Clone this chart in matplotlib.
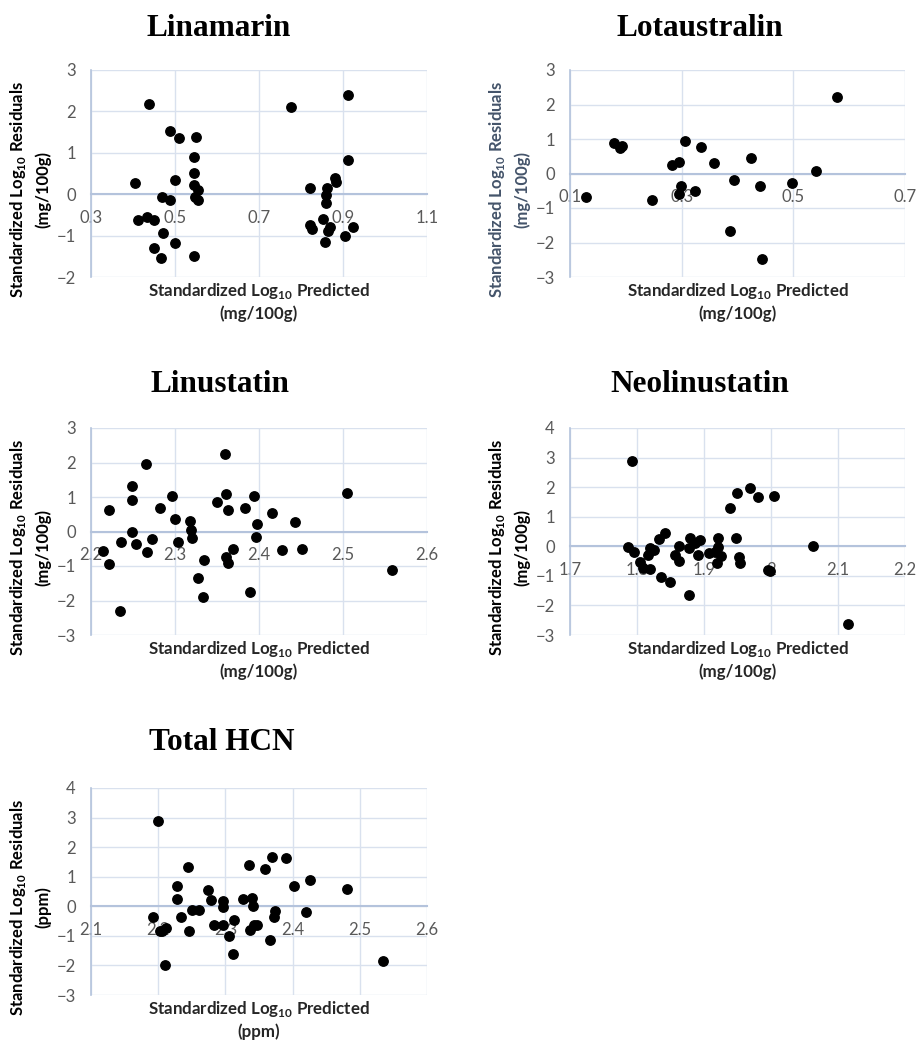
import numpy as np
import matplotlib
matplotlib.use('Agg')
import matplotlib.pyplot as plt

# values
lin_x = [0.437, 0.489, 0.509, 0.551, 0.546, 0.546, 0.404, 0.500, 0.546, 0.554, 0.548, 0.554,
         0.470, 0.489, 0.411, 0.433, 0.451, 0.471, 0.500, 0.451, 0.467, 0.546,
         0.776, 0.913, 0.913, 0.822, 0.881, 0.883, 0.862, 0.860, 0.860, 0.852, 0.822, 0.827,
         0.869, 0.865, 0.857, 0.905, 0.924]
lin_y = [2.18, 1.53, 1.36, 1.39, 0.90, 0.52, 0.27, 0.34, 0.23, 0.10, -0.06, -0.15,
         -0.06, -0.15, -0.63, -0.56, -0.63, -0.93, -1.19, -1.31, -1.53, -1.50,
         2.10, 2.40, 0.82, 0.15, 0.38, 0.30, 0.15, -0.02, -0.21, -0.60, -0.75, -0.83,
         -0.79, -0.90, -1.15, -1.01, -0.79]

lot_x = [0.129, 0.179, 0.189, 0.193, 0.246, 0.283, 0.296, 0.299, 0.296, 0.306, 0.323,
         0.334, 0.358, 0.386, 0.394, 0.424, 0.441, 0.443, 0.498, 0.540, 0.579]
lot_y = [-0.68, 0.89, 0.73, 0.80, -0.77, 0.26, 0.34, -0.36, -0.60, 0.94, -0.50,
         0.76, 0.31, -1.66, -0.19, 0.44, -0.36, -2.49, -0.27, 0.08, 2.23]

linu_x = [2.214, 2.221, 2.222, 2.234, 2.236, 2.249, 2.249, 2.249, 2.254, 2.265, 2.267,
          2.273, 2.282, 2.296, 2.300, 2.304, 2.318, 2.319, 2.320, 2.327, 2.335, 2.333,
          2.350, 2.359, 2.361, 2.363, 2.361, 2.363, 2.369, 2.383, 2.389, 2.394, 2.398,
          2.396, 2.415, 2.427, 2.443, 2.451, 2.505, 2.558]
linu_y = [-0.56, 0.63, -0.95, -2.29, -0.31, 1.31, 0.90, 0.00, -0.36, 1.97, -0.58,
          -0.22, 0.68, 1.04, 0.36, -0.31, 0.31, 0.05, -0.19, -1.36, -0.84, -1.89,
          0.85, 2.25, 1.08, 0.63, -0.73, -0.90, -0.50, 0.68, -1.75, 1.04, 0.22,
          -0.15, 0.53, -0.53, 0.27, -0.50, 1.11, -1.11]

neo_x = [1.793, 1.786, 1.795, 1.805, 1.809, 1.819, 1.819, 1.817, 1.825, 1.833, 1.842,
         1.836, 1.850, 1.857, 1.862, 1.863, 1.879, 1.878, 1.886, 1.894, 1.891, 1.878,
         1.908, 1.916, 1.921, 1.919, 1.926, 1.921, 1.939, 1.949, 1.948, 1.952, 1.954,
         1.969, 1.981, 2.004, 1.996, 1.998, 2.063, 2.115]
neo_y = [2.90, -0.03, -0.18, -0.54, -0.74, -0.77, -0.05, -0.29, -0.12, 0.25, 0.44,
         -1.03, -1.20, -0.29, 0.01, -0.49, 0.27, -0.05, 0.10, 0.21, -0.29, -1.66,
         -0.24, -0.18, 0.27, -0.55, -0.33, -0.01, 1.29, 1.80, 0.27, -0.37, -0.58,
         1.96, 1.65, 1.70, -0.80, -0.82, 0.01, -2.64]

hcn_x = [2.200, 2.192, 2.202, 2.206, 2.212, 2.210, 2.228, 2.228, 2.234, 2.244, 2.246,
         2.250, 2.260, 2.274, 2.278, 2.283, 2.297, 2.297, 2.297, 2.313, 2.305, 2.311,
         2.326, 2.335, 2.339, 2.341, 2.337, 2.343, 2.347, 2.359, 2.366, 2.370, 2.374,
         2.372, 2.390, 2.402, 2.420, 2.426, 2.481, 2.534]
hcn_y = [2.89, -0.37, -0.84, -0.82, -0.73, -1.99, 0.70, 0.23, -0.37, 1.32, -0.85,
         -0.11, -0.11, 0.56, 0.21, -0.62, 0.17, -0.03, -0.63, -0.46, -1.02, -1.61,
         0.25, 1.41, 0.27, 0.00, -0.79, -0.62, -0.62, 1.26, -1.14, 1.68, -0.15,
         -0.37, 1.64, 0.68, -0.20, 0.89, 0.59, -1.84]

titles = ['Linamarin', 'Lotaustralin', 'Linustatin', 'Neolinustatin', 'Total HCN']
units = ['(mg/100g)', '(mg/100g)', '(mg/100g)', '(mg/100g)', '(ppm)']
xticks = [[0.3, 0.5, 0.7, 0.9, 1.1],
          [0.1, 0.3, 0.5, 0.7],
          [2.2, 2.3, 2.4, 2.5, 2.6],
          [1.7, 1.8, 1.9, 2.0, 2.1, 2.2],
          [2.1, 2.2, 2.3, 2.4, 2.5, 2.6]]
xlabels = [['0.3', '0.5', '0.7', '0.9', '1.1'],
           ['0.1', '0.3', '0.5', '0.7'],
           ['2.2', '2.3', '2.4', '2.5', '2.6'],
           ['1.7', '1.8', '1.9', '2', '2.1', '2.2'],
           ['2.1', '2.2', '2.3', '2.4', '2.5', '2.6']]
ylims = [(-2, 3), (-3, 3), (-3, 3), (-3, 4), (-3, 4)]
xs = [lin_x, lot_x, linu_x, neo_x, hcn_x]
ys = [lin_y, lot_y, linu_y, neo_y, hcn_y]

plt.rcParams['mathtext.fontset'] = 'custom'
plt.rcParams['mathtext.rm'] = 'Lato'
plt.rcParams['mathtext.bf'] = 'Lato:bold'

W, H = 918, 1045
fig = plt.figure(figsize=(W / 100, H / 100), dpi=100)

# plot boxes in pixels (x0, y0, x1, y1)
boxes = [(91, 70, 427, 277), (570, 70, 905, 277),
         (91, 428, 427, 635), (570, 428, 905, 635),
         (91, 788, 427, 995)]
title_pos = [(219, 28), (700, 28), (220, 385), (700, 385), (222, 742)]
ylab_cols = ['black', '#44546A', 'black', 'black', 'black']

grid_c = '#D9E1EE'
axis_c = '#B4C3DC'
tick_c = '#595959'

for i in range(5):
    x0, y0, x1, y1 = boxes[i]
    ax = fig.add_axes([x0 / W, 1 - y1 / H, (x1 - x0) / W, (y1 - y0) / H])
    ax.scatter(xs[i], ys[i], s=46, color='black', zorder=4, clip_on=False)
    ax.set_xlim(xticks[i][0], xticks[i][-1])
    ax.set_ylim(*ylims[i])
    ax.set_xticks(xticks[i])
    ax.set_xticklabels(xlabels[i])
    ax.set_yticks(np.arange(ylims[i][0], ylims[i][1] + 1))
    ax.grid(True, color=grid_c, lw=1.0, zorder=0)
    ax.set_axisbelow(True)
    for s in ['top', 'right']:
        ax.spines[s].set_visible(False)
    ax.spines['left'].set_color(axis_c)
    ax.spines['left'].set_linewidth(1.2)
    ax.spines['bottom'].set_position(('data', 0))
    ax.spines['bottom'].set_color(axis_c)
    ax.spines['bottom'].set_linewidth(1.5)
    ax.tick_params(axis='both', length=0, labelsize=12, labelcolor=tick_c)
    ax.tick_params(axis='x', pad=11.5)
    ax.tick_params(axis='y', pad=11)
    for lab in ax.get_xticklabels() + ax.get_yticklabels():
        lab.set_fontfamily('Lato')

    tx, ty = title_pos[i]
    fig.text(tx / W, 1 - ty / H, titles[i], ha='center', va='center',
             fontsize=22.5, fontweight='bold', family='Liberation Serif')

    # y label, two lines
    cy = 1 - ((y0 + y1) / 2 + 16) / H
    fig.text((x0 - 73) / W, cy, r'Standardized Log$_{\mathbf{10}}$ Residuals',
             rotation=90, ha='center', va='center', fontsize=12,
             fontweight='bold', family='Lato', color=ylab_cols[i])
    fig.text((x0 - 48) / W, cy, units[i], rotation=90, ha='center', va='center',
             fontsize=12, fontweight='bold', family='Lato', color=ylab_cols[i])

    # x label, two lines
    cx = (x0 + x1) / 2 / W
    fig.text(cx, 1 - (y1 + 14) / H, r'Standardized Log$_{\mathbf{10}}$ Predicted',
             ha='center', va='center', fontsize=12.2, fontweight='bold', family='Lato',
             color='#262626')
    fig.text(cx, 1 - (y1 + 37) / H, units[i], ha='center', va='center',
             fontsize=12.2, fontweight='bold', family='Lato', color='#262626')

fig.savefig('out.png', dpi=100)
